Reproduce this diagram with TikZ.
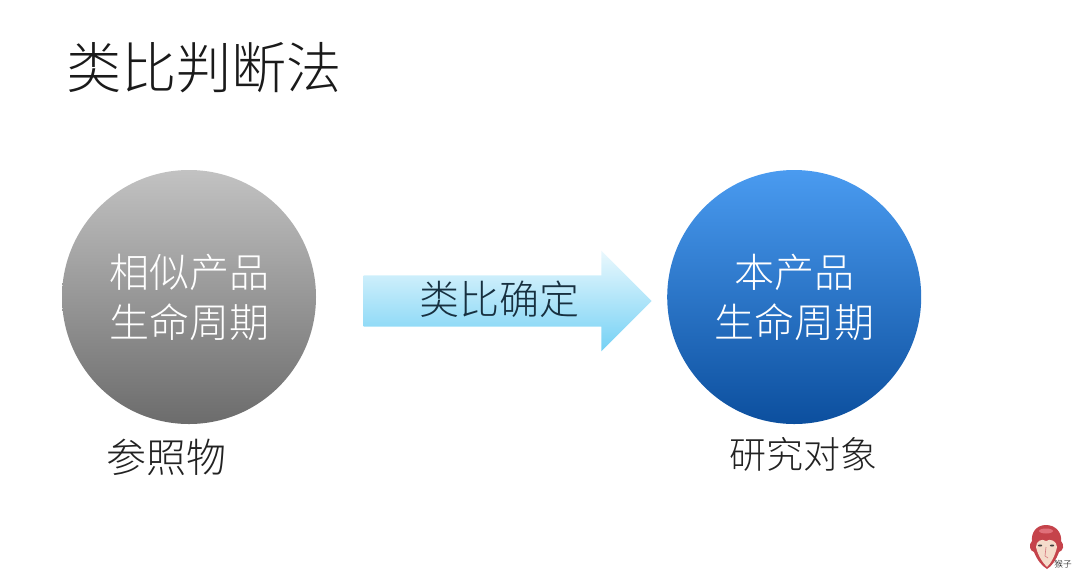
\documentclass[tikz,border=0pt]{standalone}
\usepackage{fontspec}
\usepackage{xcolor}
\usetikzlibrary{positioning,shapes.arrows}
\setmainfont[UprightFont={* Light}]{Noto Sans CJK SC}
\definecolor{TitleInk}{HTML}{1A1A1A}
\definecolor{LabelInk}{HTML}{222222}
\definecolor{FlowInk}{HTML}{173040}
\definecolor{GrayTop}{HTML}{C2C2C2}
\definecolor{GrayMid}{HTML}{A4A4A4}
\definecolor{GrayEnd}{HTML}{6C6C6C}
\definecolor{BlueTop}{HTML}{4A9BF0}
\definecolor{BlueMid}{HTML}{1B70D6}
\definecolor{BlueEnd}{HTML}{0C4F9E}
\definecolor{FlowTop}{HTML}{EAF8FD}
\definecolor{FlowEnd}{HTML}{74D1F5}
\definecolor{MonkeyRed}{HTML}{C5434B}
\definecolor{MonkeyFace}{HTML}{F5DCCB}
\definecolor{MonkeyHair}{HTML}{E0707A}

\begin{document}
\begin{tikzpicture}[
  x=0.75pt,y=0.75pt,
  disc/.style={circle,minimum size=190.5pt,inner sep=0pt,align=center,text=white,font=\fontsize{30}{37.5}\selectfont},
  caption/.style={inner sep=0pt,text=LabelInk},
  flow/.style={single arrow,single arrow head extend=18.4pt,single arrow tip angle=90,minimum width=75pt,minimum height=216pt,inner xsep=0pt,inner ysep=19.1pt,top color=FlowTop,bottom color=FlowEnd}
]
  \useasboundingbox (0,0) rectangle (1080,-572);
  \node[inner sep=0pt,text=TitleInk,font=\fontsize{41.4}{50}\selectfont] (title) at (204,-68) {类比判断法};
  \node[disc,top color=GrayTop,middle color=GrayMid,bottom color=GrayEnd] (source) at (189,-297) {相似产品\\生命周期};
  \node[flow,right=35.25pt of source,yshift=-3pt] (flowarrow) {};
  \node[inner sep=0pt,text=FlowInk,font=\fontsize{30}{36}\selectfont] (flowtext) at (499,-299) {类比确定};
  \node[disc,right=11.25pt of flowarrow,yshift=3pt,top color=BlueTop,middle color=BlueMid,bottom color=BlueEnd] (target) {本产品\\生命周期};
  \node[caption,font=\fontsize{30}{36}\selectfont] (sourcename) at (166,-457) {参照物};
  \node[caption,font=\fontsize{27.75}{34}\selectfont] (targetname) at (803,-454) {研究对象};
  % small monkey mark
  \fill[MonkeyRed] (1046,-525) .. controls (1036,-525) and (1031,-533) .. (1032,-541) .. controls (1028,-545) and (1030,-551) .. (1034,-552) .. controls (1037,-560) and (1042,-566) .. (1047,-569) .. controls (1052,-566) and (1056,-560) .. (1059,-552) .. controls (1063,-551) and (1065,-545) .. (1061,-541) .. controls (1062,-533) and (1056,-525) .. (1046,-525) -- cycle;
  \fill[MonkeyHair] (1046,-531) ellipse (7 and 2.5);
  \fill[MonkeyFace] (1046,-541) .. controls (1042,-538) and (1036,-541) .. (1036,-547) .. controls (1038,-556) and (1043,-563) .. (1047,-567) .. controls (1051,-563) and (1055,-556) .. (1057,-547) .. controls (1057,-541) and (1050,-538) .. (1046,-541) -- cycle;
  \fill[black!75] (1040,-545.5) ellipse (2.2 and 1);
  \fill[black!75] (1052,-545.5) ellipse (2.2 and 1);
  \draw[MonkeyRed!70,line width=0.5pt] (1046,-547) -- (1045,-556) -- (1048,-558);
  \node[inner sep=0pt,font=\fontsize{6.5}{8}\selectfont,text=black] (monkeyname) at (1063,-564) {猴子};
\end{tikzpicture}
\end{document}
